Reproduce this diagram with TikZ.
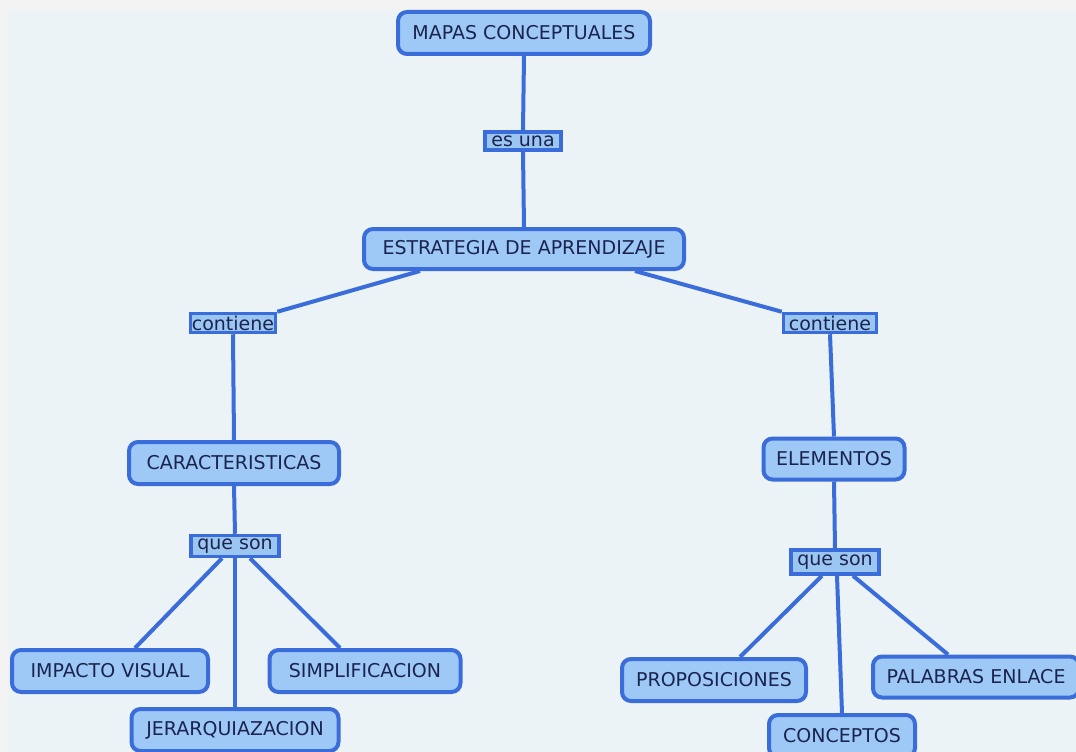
\documentclass[tikz,border=0pt]{standalone}
\usepackage{fontspec}
\setmainfont{DejaVu Sans}
\usetikzlibrary{calc}
\definecolor{cborder}{RGB}{58,108,218}
\definecolor{cfill}{RGB}{158,201,247}
\definecolor{lfill}{RGB}{156,198,242}
\definecolor{ctext}{RGB}{26,36,78}
\definecolor{outerbg}{RGB}{243,243,243}
\definecolor{panelbg}{RGB}{235,243,247}
\pgfdeclarelayer{panel}
\pgfdeclarelayer{edges}
\pgfsetlayers{panel,edges,main}
\begin{document}
\begin{tikzpicture}[x=1pt,y=-1pt,
  concept/.style={draw=cborder, line width=4pt, fill=cfill, rounded corners=9pt,
    text=ctext, font=\fontsize{19}{21}\selectfont, inner sep=0pt},
  linkbox/.style={draw=cborder, line width=3.5pt, fill=lfill,
    text=ctext, font=\fontsize{19}{21}\selectfont, inner sep=0pt},
  conn/.style={draw=cborder, line width=4pt}]
\useasboundingbox (0,0) rectangle (1076,752);
\begin{pgfonlayer}{panel}
\fill[outerbg] (0,0) rectangle (1076,752);
\fill[panelbg] (8,10) rectangle (1076,752);
\end{pgfonlayer}

\node[concept, minimum width=252pt, minimum height=42pt] (mapas) at (524,33) {MAPAS CONCEPTUALES};
\node[linkbox, minimum width=76pt, minimum height=18pt] (esuna) at (523,141) {es una};
\node[concept, minimum width=320pt, minimum height=40pt] (estr) at (524,249) {ESTRATEGIA DE APRENDIZAJE};
\node[linkbox, minimum width=85pt, minimum height=19pt] (cont1) at (233,323) {contiene};
\node[linkbox, minimum width=93pt, minimum height=19pt] (cont2) at (830,323) {contiene};
\node[concept, minimum width=210pt, minimum height=42pt] (carac) at (234,463) {CARACTERISTICAS};
\node[concept, minimum width=141pt, minimum height=41pt] (elem) at (834,459) {ELEMENTOS};
\node[linkbox, minimum width=88pt, minimum height=21pt] (que1) at (235,546) {que son};
\node[linkbox, minimum width=88pt, minimum height=24pt] (que2) at (835,562) {que son};
\node[concept, minimum width=196pt, minimum height=42pt] (impacto) at (110,671) {IMPACTO VISUAL};
\node[concept, minimum width=191pt, minimum height=42pt] (simpl) at (365,671) {SIMPLIFICACION};
\node[concept, minimum width=207pt, minimum height=42pt] (jerar) at (235,730) {JERARQUIAZACION};
\node[concept, minimum width=184pt, minimum height=42pt] (propo) at (714,680) {PROPOSICIONES};
\node[concept, minimum width=206pt, minimum height=41pt] (palab) at (976,677) {PALABRAS ENLACE};
\node[concept, minimum width=146pt, minimum height=42pt] (concep) at (842,736) {CONCEPTOS};

\begin{pgfonlayer}{edges}
\draw[conn] (mapas.south) -- (esuna.north);
\draw[conn] (esuna.south) -- (estr.north);
\draw[conn] ([xshift=-104pt]estr.south) -- (cont1.north east);
\draw[conn] ([xshift=111pt]estr.south) -- (cont2.north west);
\draw[conn] (cont1.south) -- (carac.north);
\draw[conn] (cont2.south) -- (elem.north);
\draw[conn] (carac.south) -- (que1.north);
\draw[conn] (elem.south) -- (que2.north);
\draw[conn] ([xshift=-13pt]que1.south) -- ([xshift=25pt]impacto.north);
\draw[conn] (que1.south) -- (jerar.north);
\draw[conn] ([xshift=15pt]que1.south) -- ([xshift=-25pt]simpl.north);
\draw[conn] ([xshift=-13pt]que2.south) -- ([xshift=26pt]propo.north);
\draw[conn] ([xshift=2pt]que2.south) -- (concep.north);
\draw[conn] ([xshift=18pt]que2.south) -- ([xshift=-28pt]palab.north);
\end{pgfonlayer}
\end{tikzpicture}
\end{document}
